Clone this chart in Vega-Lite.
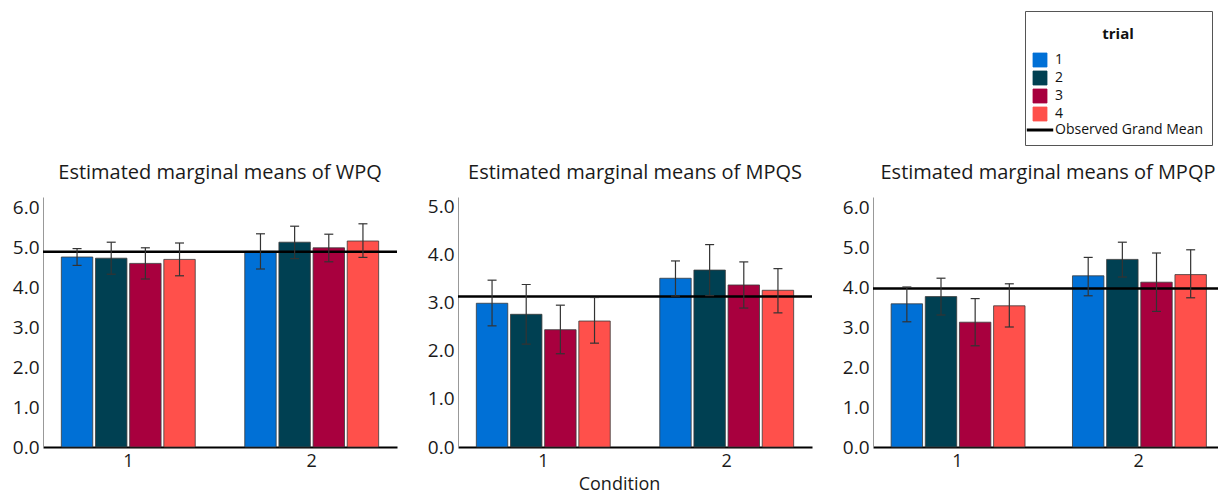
{
  "$schema": "https://vega.github.io/schema/vega-lite/v6.json",
  "padding": {"left": 12, "top": 10, "right": 0, "bottom": 0},
  "background": "white",
  "datasets": {
    "means": [
      {"measure": "WPQ", "condition": "1", "trial": "1", "mean": 4.75, "lo": 4.54, "hi": 4.96},
      {"measure": "WPQ", "condition": "1", "trial": "2", "mean": 4.72, "lo": 4.32, "hi": 5.12},
      {"measure": "WPQ", "condition": "1", "trial": "3", "mean": 4.59, "lo": 4.20, "hi": 4.98},
      {"measure": "WPQ", "condition": "1", "trial": "4", "mean": 4.69, "lo": 4.28, "hi": 5.10},
      {"measure": "WPQ", "condition": "2", "trial": "1", "mean": 4.89, "lo": 4.45, "hi": 5.33},
      {"measure": "WPQ", "condition": "2", "trial": "2", "mean": 5.12, "lo": 4.71, "hi": 5.52},
      {"measure": "WPQ", "condition": "2", "trial": "3", "mean": 4.98, "lo": 4.63, "hi": 5.32},
      {"measure": "WPQ", "condition": "2", "trial": "4", "mean": 5.15, "lo": 4.74, "hi": 5.58},
      {"measure": "MPQS", "condition": "1", "trial": "1", "mean": 2.99, "lo": 2.52, "hi": 3.47},
      {"measure": "MPQS", "condition": "1", "trial": "2", "mean": 2.76, "lo": 2.14, "hi": 3.38},
      {"measure": "MPQS", "condition": "1", "trial": "3", "mean": 2.44, "lo": 1.94, "hi": 2.95},
      {"measure": "MPQS", "condition": "1", "trial": "4", "mean": 2.62, "lo": 2.16, "hi": 3.11},
      {"measure": "MPQS", "condition": "2", "trial": "1", "mean": 3.51, "lo": 3.14, "hi": 3.87},
      {"measure": "MPQS", "condition": "2", "trial": "2", "mean": 3.68, "lo": 3.15, "hi": 4.21},
      {"measure": "MPQS", "condition": "2", "trial": "3", "mean": 3.37, "lo": 2.89, "hi": 3.85},
      {"measure": "MPQS", "condition": "2", "trial": "4", "mean": 3.26, "lo": 2.79, "hi": 3.71},
      {"measure": "MPQP", "condition": "1", "trial": "1", "mean": 3.58, "lo": 3.13, "hi": 4.00},
      {"measure": "MPQP", "condition": "1", "trial": "2", "mean": 3.76, "lo": 3.30, "hi": 4.22},
      {"measure": "MPQP", "condition": "1", "trial": "3", "mean": 3.12, "lo": 2.53, "hi": 3.71},
      {"measure": "MPQP", "condition": "1", "trial": "4", "mean": 3.53, "lo": 3.00, "hi": 4.08},
      {"measure": "MPQP", "condition": "2", "trial": "1", "mean": 4.28, "lo": 3.78, "hi": 4.74},
      {"measure": "MPQP", "condition": "2", "trial": "2", "mean": 4.69, "lo": 4.25, "hi": 5.12},
      {"measure": "MPQP", "condition": "2", "trial": "3", "mean": 4.12, "lo": 3.39, "hi": 4.85},
      {"measure": "MPQP", "condition": "2", "trial": "4", "mean": 4.31, "lo": 3.73, "hi": 4.93}
    ],
    "grand": [
      {"measure": "WPQ", "value": 4.88, "label": "Observed Grand Mean"},
      {"measure": "MPQS", "value": 3.13, "label": "Observed Grand Mean"},
      {"measure": "MPQP", "value": 3.96, "label": "Observed Grand Mean"}
    ]
  },
  "spacing": 28,
  "hconcat": [
    {
      "width": 354, "height": 250,
      "title": {"text": "Estimated marginal means of WPQ"},
      "layer": [
        {
          "data": {"name": "means"},
          "transform": [{"filter": "datum.measure === 'WPQ'"}],
          "mark": {"type": "bar", "stroke": "#3a3a3a", "strokeWidth": 0.8},
          "encoding": {
            "x": {"field": "condition", "type": "nominal", "scale": {"paddingInner": 0.27, "paddingOuter": 0.1}, "axis": {"title": null}},
            "xOffset": {"field": "trial", "type": "nominal", "scale": {"paddingInner": 0.08, "paddingOuter": 0}},
            "y": {"field": "mean", "type": "quantitative", "scale": {"domain": [0, 6.25], "nice": false}, "axis": {"values": [0, 1, 2, 3, 4, 5, 6], "format": ".1f", "title": null}},
            "color": {"field": "trial", "type": "nominal", "scale": {"domain": ["1", "2", "3", "4", "Observed Grand Mean"], "range": ["#0070d6", "#004052", "#a8003e", "#ff504b", "#000000"]},
              "legend": {
                "title": ["", "trial"], "orient": "none", "legendX": 982, "legendY": -186,
                "encoding": {"symbols": {
                  "shape": {"value": {"expr": "datum.value === 'Observed Grand Mean' ? 'stroke' : 'square'"}},
                  "size": {"value": {"expr": "datum.value === 'Observed Grand Mean' ? 700 : 196"}},
                  "strokeWidth": {"value": {"expr": "datum.value === 'Observed Grand Mean' ? 3 : 0.8"}},
                  "stroke": {"value": {"expr": "datum.value === 'Observed Grand Mean' ? '#000000' : '#333333'"}},
                  "opacity": {"value": 1}
                }}
              }}
          }
        },
        {
          "data": {"name": "grand"},
          "transform": [{"filter": "datum.measure === 'WPQ'"}],
          "mark": {"type": "rule", "strokeWidth": 2.5},
          "encoding": {
            "y": {"field": "value", "type": "quantitative"},
            "color": {"field": "label", "type": "nominal"}
          }
        },
        {
          "data": {"name": "means"},
          "transform": [{"filter": "datum.measure === 'WPQ'"}],
          "mark": {"type": "rule", "color": "#333333", "strokeWidth": 1.2},
          "encoding": {
            "x": {"field": "condition", "type": "nominal"},
            "xOffset": {"field": "trial", "type": "nominal"},
            "y": {"field": "lo", "type": "quantitative"},
            "y2": {"field": "hi"}
          }
        },
        {
          "data": {"name": "means"},
          "transform": [{"filter": "datum.measure === 'WPQ'"}],
          "mark": {"type": "tick", "color": "#333333", "size": 9, "thickness": 1.2, "opacity": 1},
          "encoding": {
            "x": {"field": "condition", "type": "nominal"},
            "xOffset": {"field": "trial", "type": "nominal"},
            "y": {"field": "lo", "type": "quantitative"}
          }
        },
        {
          "data": {"name": "means"},
          "transform": [{"filter": "datum.measure === 'WPQ'"}],
          "mark": {"type": "tick", "color": "#333333", "size": 9, "thickness": 1.2, "opacity": 1},
          "encoding": {
            "x": {"field": "condition", "type": "nominal"},
            "xOffset": {"field": "trial", "type": "nominal"},
            "y": {"field": "hi", "type": "quantitative"}
          }
        }
      ]
    },
    {
      "width": 354, "height": 250,
      "title": {"text": "Estimated marginal means of MPQS"},
      "layer": [
        {
          "data": {"name": "means"},
          "transform": [{"filter": "datum.measure === 'MPQS'"}],
          "mark": {"type": "bar", "stroke": "#3a3a3a", "strokeWidth": 0.8},
          "encoding": {
            "x": {"field": "condition", "type": "nominal", "scale": {"paddingInner": 0.27, "paddingOuter": 0.1}, "axis": {"title": "Condition", "titleX": 161, "titleAlign": "center"}},
            "xOffset": {"field": "trial", "type": "nominal", "scale": {"paddingInner": 0.08, "paddingOuter": 0}},
            "y": {"field": "mean", "type": "quantitative", "scale": {"domain": [0, 5.2], "nice": false}, "axis": {"values": [0, 1, 2, 3, 4, 5], "format": ".1f", "title": null}},
            "color": {"field": "trial", "type": "nominal"}
          }
        },
        {
          "data": {"name": "grand"},
          "transform": [{"filter": "datum.measure === 'MPQS'"}],
          "mark": {"type": "rule", "strokeWidth": 2.5},
          "encoding": {
            "y": {"field": "value", "type": "quantitative"},
            "color": {"field": "label", "type": "nominal"}
          }
        },
        {
          "data": {"name": "means"},
          "transform": [{"filter": "datum.measure === 'MPQS'"}],
          "mark": {"type": "rule", "color": "#333333", "strokeWidth": 1.2},
          "encoding": {
            "x": {"field": "condition", "type": "nominal"},
            "xOffset": {"field": "trial", "type": "nominal"},
            "y": {"field": "lo", "type": "quantitative"},
            "y2": {"field": "hi"}
          }
        },
        {
          "data": {"name": "means"},
          "transform": [{"filter": "datum.measure === 'MPQS'"}],
          "mark": {"type": "tick", "color": "#333333", "size": 9, "thickness": 1.2, "opacity": 1},
          "encoding": {
            "x": {"field": "condition", "type": "nominal"},
            "xOffset": {"field": "trial", "type": "nominal"},
            "y": {"field": "lo", "type": "quantitative"}
          }
        },
        {
          "data": {"name": "means"},
          "transform": [{"filter": "datum.measure === 'MPQS'"}],
          "mark": {"type": "tick", "color": "#333333", "size": 9, "thickness": 1.2, "opacity": 1},
          "encoding": {
            "x": {"field": "condition", "type": "nominal"},
            "xOffset": {"field": "trial", "type": "nominal"},
            "y": {"field": "hi", "type": "quantitative"}
          }
        }
      ]
    },
    {
      "width": 350, "height": 250,
      "title": {"text": "Estimated marginal means of MPQP"},
      "layer": [
        {
          "data": {"name": "means"},
          "transform": [{"filter": "datum.measure === 'MPQP'"}],
          "mark": {"type": "bar", "stroke": "#3a3a3a", "strokeWidth": 0.8},
          "encoding": {
            "x": {"field": "condition", "type": "nominal", "scale": {"paddingInner": 0.27, "paddingOuter": 0.1}, "axis": {"title": null}},
            "xOffset": {"field": "trial", "type": "nominal", "scale": {"paddingInner": 0.08, "paddingOuter": 0}},
            "y": {"field": "mean", "type": "quantitative", "scale": {"domain": [0, 6.25], "nice": false}, "axis": {"values": [0, 1, 2, 3, 4, 5, 6], "format": ".1f", "title": null}},
            "color": {"field": "trial", "type": "nominal"}
          }
        },
        {
          "data": {"name": "grand"},
          "transform": [{"filter": "datum.measure === 'MPQP'"}],
          "mark": {"type": "rule", "strokeWidth": 2.5},
          "encoding": {
            "y": {"field": "value", "type": "quantitative"},
            "color": {"field": "label", "type": "nominal"}
          }
        },
        {
          "data": {"name": "means"},
          "transform": [{"filter": "datum.measure === 'MPQP'"}],
          "mark": {"type": "rule", "color": "#333333", "strokeWidth": 1.2},
          "encoding": {
            "x": {"field": "condition", "type": "nominal"},
            "xOffset": {"field": "trial", "type": "nominal"},
            "y": {"field": "lo", "type": "quantitative"},
            "y2": {"field": "hi"}
          }
        },
        {
          "data": {"name": "means"},
          "transform": [{"filter": "datum.measure === 'MPQP'"}],
          "mark": {"type": "tick", "color": "#333333", "size": 9, "thickness": 1.2, "opacity": 1},
          "encoding": {
            "x": {"field": "condition", "type": "nominal"},
            "xOffset": {"field": "trial", "type": "nominal"},
            "y": {"field": "lo", "type": "quantitative"}
          }
        },
        {
          "data": {"name": "means"},
          "transform": [{"filter": "datum.measure === 'MPQP'"}],
          "mark": {"type": "tick", "color": "#333333", "size": 9, "thickness": 1.2, "opacity": 1},
          "encoding": {
            "x": {"field": "condition", "type": "nominal"},
            "xOffset": {"field": "trial", "type": "nominal"},
            "y": {"field": "hi", "type": "quantitative"}
          }
        }
      ]
    }
  ],
  "config": {
    "font": "Open Sans",
    "view": {"stroke": null},
    "title": {"fontSize": 20, "fontWeight": "normal", "color": "#1a1a1a", "offset": 14, "anchor": "middle"},
    "axisX": {"labelAngle": 0, "domainColor": "#000000", "domainWidth": 2, "ticks": false, "labelFontSize": 18, "labelColor": "#1a1a1a", "labelPadding": 5, "titleFontSize": 18, "titleFontWeight": "normal", "titleColor": "#1a1a1a", "titlePadding": 5},
    "axisY": {"grid": false, "ticks": false, "domainColor": "#999999", "domainWidth": 1, "labelFontSize": 19, "labelColor": "#1a1a1a", "labelPadding": 4},
    "legend": {"strokeColor": "#555555", "strokeWidth": 1, "fillColor": "white", "padding": 8, "titleFontSize": 15, "titleFontWeight": "bold", "titleColor": "#111111", "titleAnchor": "middle", "titleAlign": "center", "titleLineHeight": 8, "titlePadding": 11, "labelFontSize": 14, "labelColor": "#111111", "labelOffset": 8, "rowPadding": 0, "symbolSize": 196, "symbolType": "square"}
  }
}
